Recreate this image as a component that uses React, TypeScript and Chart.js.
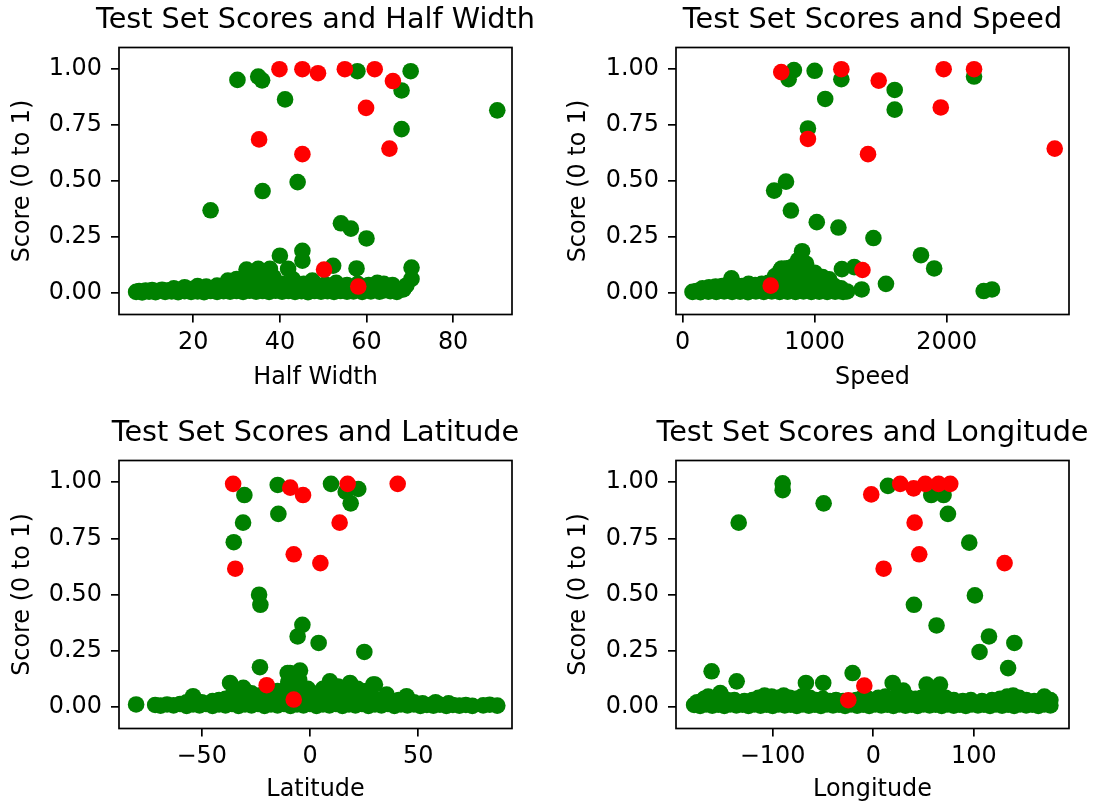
import React, { useEffect, useRef } from 'react';
import { Chart, registerables } from 'chart.js';

Chart.register(...registerables);

type Pt = [number, number];

// ---------- tick values / labels ----------
const yTickValues = [0, 0.25, 0.5, 0.75, 1.0];
const yTickLabels = ['0.00', '0.25', '0.50', '0.75', '1.00'];

const halfWidthTicks = [20, 40, 60, 80];
const halfWidthTickLabels = ['20', '40', '60', '80'];
const speedTicks = [0, 1000, 2000];
const speedTickLabels = ['0', '1000', '2000'];
const latitudeTicks = [-50, 0, 50];
const latitudeTickLabels = ['\u221250', '0', '50'];
const longitudeTicks = [-100, 0, 100];
const longitudeTickLabels = ['\u2212100', '0', '100'];

// ---------- Half Width ----------
const halfWidthRed: Pt[] = [
  [39.9, 1.0], [45.2, 1.0], [48.8, 0.982], [55.0, 1.0], [61.9, 1.0], [66.1, 0.947],
  [59.9, 0.827], [35.2, 0.686], [45.2, 0.62], [65.3, 0.645], [50.2, 0.104], [58.1, 0.028],
];
const halfWidthGreen: Pt[] = [
  [30.2, 0.952], [35.0, 0.967], [35.9, 0.95], [57.9, 0.991], [70.2, 0.991], [68.1, 0.905],
  [41.2, 0.865], [90.2, 0.816], [68.1, 0.732], [36.0, 0.455], [44.1, 0.495], [24.0, 0.369],
  [54.1, 0.311], [56.4, 0.287], [60.0, 0.243], [40.0, 0.166], [45.2, 0.188], [45.2, 0.144],
  [32.3, 0.104], [35.0, 0.107], [37.7, 0.107], [41.9, 0.107], [52.3, 0.121], [57.7, 0.109],
  [70.4, 0.113], [70.4, 0.062], [69.2, 0.033], [34.0, 0.075], [38.5, 0.07], [36.2, 0.058],
  [30.0, 0.062], [28.0, 0.055], [43.0, 0.06], [47.5, 0.055],
  [6.8, 0.004], [7.5, 0.008], [8.2, 0.002], [9.0, 0.01], [9.8, 0.005], [10.5, 0.012],
  [11.3, 0.003], [12.0, 0.009], [12.8, 0.014], [13.5, 0.004], [14.3, 0.011], [15.0, 0.006],
  [15.8, 0.016], [16.5, 0.003], [17.3, 0.012], [18.0, 0.007], [18.8, 0.018], [19.5, 0.004],
  [20.3, 0.013], [21.0, 0.006], [21.8, 0.02], [22.5, 0.003], [23.3, 0.015], [24.0, 0.008],
  [24.8, 0.022], [25.5, 0.004], [26.3, 0.016], [27.0, 0.007], [27.8, 0.024], [28.5, 0.005],
  [29.3, 0.018], [30.0, 0.008], [30.8, 0.026], [31.5, 0.004], [32.3, 0.019], [33.0, 0.009],
  [33.8, 0.028], [34.5, 0.005], [35.3, 0.02], [36.0, 0.008], [36.8, 0.027], [37.5, 0.004],
  [38.3, 0.018], [39.0, 0.009], [39.8, 0.025], [40.5, 0.005], [41.3, 0.017], [42.0, 0.008],
  [42.8, 0.026], [43.5, 0.004], [44.3, 0.019], [45.0, 0.007], [45.8, 0.024], [46.5, 0.003],
  [47.3, 0.016], [48.0, 0.008], [48.8, 0.023], [49.5, 0.005], [50.3, 0.015], [51.0, 0.007],
  [51.8, 0.022], [52.5, 0.004], [53.3, 0.017], [54.0, 0.008], [54.8, 0.021], [55.5, 0.005],
  [56.3, 0.014], [57.0, 0.006], [58.0, 0.018], [59.0, 0.004], [60.0, 0.012], [61.0, 0.006],
  [62.0, 0.016], [63.0, 0.005], [64.0, 0.011], [65.5, 0.007], [67.0, 0.004], [68.5, 0.015],
  [15.5, 0.02], [18.0, 0.025], [21.0, 0.03], [23.0, 0.028], [25.5, 0.032], [28.0, 0.035],
  [30.5, 0.04], [33.0, 0.045], [35.5, 0.042], [38.0, 0.048], [40.5, 0.04], [43.0, 0.045],
  [45.5, 0.04], [48.0, 0.042], [50.5, 0.038], [53.0, 0.045], [55.5, 0.035], [58.0, 0.04],
  [60.5, 0.035], [62.5, 0.045], [64.0, 0.04], [66.0, 0.035],
];

// ---------- Speed ----------
const speedRed: Pt[] = [
  [747, 0.987], [1202, 1.0], [1485, 0.949], [1977, 1.0], [2207, 1.0], [1955, 0.829],
  [949, 0.688], [1404, 0.62], [2818, 0.645], [1362, 0.102], [667, 0.032],
];
const speedGreen: Pt[] = [
  [843, 0.996], [803, 0.955], [1000, 0.993], [1202, 0.955], [1606, 0.907], [1606, 0.819],
  [1080, 0.867], [2207, 0.967], [949, 0.735], [693, 0.457], [783, 0.497], [820, 0.368],
  [1016, 0.316], [1180, 0.292], [1445, 0.245], [1805, 0.168], [1905, 0.109], [1540, 0.04],
  [1356, 0.015], [2280, 0.008], [2343, 0.015], [1206, 0.106], [1300, 0.115],
  [700, 0.075], [740, 0.1], [750, 0.109], [790, 0.11], [800, 0.085], [840, 0.12], [860, 0.08],
  [875, 0.146], [880, 0.125], [900, 0.1], [905, 0.186], [935, 0.13], [920, 0.09], [960, 0.08],
  [1000, 0.09], [1020, 0.075], [1060, 0.07], [1110, 0.06],
  [75, 0.004], [105, 0.008], [135, 0.003], [165, 0.01], [195, 0.005], [225, 0.012],
  [255, 0.004], [285, 0.009], [315, 0.006], [345, 0.011], [375, 0.004], [405, 0.01],
  [435, 0.005], [465, 0.012], [495, 0.003], [525, 0.01], [555, 0.006], [585, 0.012],
  [615, 0.004], [645, 0.01], [675, 0.006], [705, 0.012], [735, 0.004], [765, 0.01],
  [795, 0.005], [825, 0.012], [855, 0.004], [885, 0.01], [915, 0.006], [945, 0.012],
  [975, 0.004], [1005, 0.01], [1035, 0.005], [1065, 0.011], [1095, 0.004], [1125, 0.009],
  [1155, 0.005], [1185, 0.008], [1215, 0.004], [1245, 0.006],
  [150, 0.02], [200, 0.025], [250, 0.028], [300, 0.03], [350, 0.04], [370, 0.065],
  [400, 0.035], [450, 0.03], [500, 0.04], [550, 0.035], [600, 0.04], [650, 0.045],
  [700, 0.05], [750, 0.06], [800, 0.05], [850, 0.06], [900, 0.05], [950, 0.06],
  [1000, 0.05], [1050, 0.055], [1100, 0.04], [1150, 0.03], [1200, 0.02],
];

// ---------- Latitude ----------
const latitudeRed: Pt[] = [
  [-35.5, 0.993], [-9.1, 0.976], [-3.2, 0.943], [17.4, 0.993], [40.5, 0.993], [13.7, 0.82],
  [-7.5, 0.679], [4.8, 0.64], [-34.5, 0.615], [-20.0, 0.096], [-7.5, 0.032],
];
const latitudeGreen: Pt[] = [
  [-30.3, 0.943], [-14.9, 0.988], [9.7, 0.993], [22.3, 0.97], [16.5, 0.958], [18.8, 0.906],
  [-30.9, 0.82], [-14.6, 0.859], [-35.2, 0.733], [-23.5, 0.499], [-22.9, 0.454], [-3.5, 0.365],
  [-5.7, 0.313], [4.0, 0.284], [25.1, 0.244], [-23.1, 0.176], [-10.3, 0.15], [-4.6, 0.161],
  [30.0, 0.099],
  [-80.3, 0.01], [-71.5, 0.008], [-69, 0.005], [-66, 0.01], [-63, 0.006], [-60, 0.012],
  [-57, 0.004], [-54, 0.01], [-51, 0.006], [-48, 0.012], [-45, 0.004], [-42, 0.01],
  [-39, 0.006], [-36, 0.012], [-33, 0.004], [-30, 0.01], [-27, 0.006], [-24, 0.012],
  [-21, 0.004], [-18, 0.01], [-15, 0.006], [-12, 0.012], [-9, 0.004], [-6, 0.01],
  [-3, 0.006], [0, 0.012], [3, 0.004], [6, 0.01], [9, 0.006], [12, 0.012], [15, 0.004],
  [18, 0.01], [21, 0.006], [24, 0.012], [27, 0.004], [30, 0.01], [33, 0.006], [36, 0.012],
  [39, 0.004], [42, 0.01], [45, 0.006], [48, 0.01], [51, 0.004], [54, 0.008], [57, 0.005],
  [60, 0.009], [63, 0.004], [66, 0.008], [69, 0.005], [72, 0.008], [75, 0.004], [80, 0.006],
  [83, 0.009], [86.5, 0.005],
  [-57, 0.02], [-54, 0.047], [-50, 0.02], [-45, 0.025], [-42, 0.03], [-39, 0.035],
  [-36.9, 0.106], [-36, 0.05], [-33, 0.04], [-30.8, 0.084], [-30, 0.05], [-27, 0.06],
  [-25, 0.03], [-23, 0.05], [-21, 0.06], [-19, 0.035], [-17, 0.055], [-15, 0.07], [-13, 0.04],
  [-11, 0.08], [-9.2, 0.15], [-10, 0.11], [-8, 0.06], [-6, 0.095], [-5, 0.12], [-3, 0.05],
  [-1, 0.08], [1, 0.04], [3.8, 0.055], [6, 0.08], [8, 0.04], [9.2, 0.113], [11, 0.07],
  [13, 0.09], [15, 0.05], [17, 0.085], [18.5, 0.106], [20, 0.06], [22, 0.08], [24, 0.04],
  [26, 0.07], [29.2, 0.099], [28, 0.04], [31, 0.03], [35.4, 0.054], [38, 0.025], [41, 0.03],
  [44.6, 0.047], [48, 0.02], [52, 0.015], [58, 0.02], [64, 0.015],
];

// ---------- Longitude ----------
const longitudeRed: Pt[] = [
  [-2.0, 0.946], [26.8, 0.993], [40.1, 0.973], [51.7, 0.993], [64.9, 0.993], [76.5, 0.993],
  [41.1, 0.82], [45.7, 0.679], [10.3, 0.615], [130.5, 0.64], [-8.9, 0.094], [-24.8, 0.029],
];
const longitudeGreen: Pt[] = [
  [-90, 0.995], [-90, 0.965], [-49.3, 0.906], [-133.7, 0.82], [14.6, 0.984], [57.6, 0.943],
  [69.9, 0.943], [74.2, 0.859], [95.4, 0.731], [40.4, 0.454], [101, 0.496], [62.9, 0.362],
  [115, 0.313], [105.6, 0.244], [140.2, 0.284], [134, 0.172], [-160.6, 0.158], [-135.7, 0.113],
  [-66.9, 0.106], [-49.7, 0.106], [-20.5, 0.15], [19.3, 0.106], [29.8, 0.072], [53, 0.099],
  [66.3, 0.099], [-152, 0.061],
  [-178, 0.008], [-172, 0.004], [-166, 0.01], [-160, 0.005], [-154, 0.009], [-148, 0.004],
  [-142, 0.01], [-136, 0.006], [-130, 0.009], [-124, 0.004], [-118, 0.01], [-112, 0.005],
  [-106, 0.009], [-100, 0.004], [-94, 0.01], [-88, 0.006], [-82, 0.009], [-76, 0.004],
  [-70, 0.01], [-64, 0.005], [-58, 0.009], [-52, 0.004], [-46, 0.01], [-40, 0.006],
  [-34, 0.009], [-28, 0.004], [-22, 0.01], [-16, 0.005], [-10, 0.009], [-4, 0.004],
  [2, 0.01], [8, 0.006], [14, 0.009], [20, 0.004], [26, 0.01], [32, 0.005], [38, 0.009],
  [44, 0.004], [50, 0.01], [56, 0.006], [62, 0.009], [68, 0.004], [74, 0.01], [80, 0.005],
  [86, 0.009], [92, 0.004], [98, 0.01], [104, 0.006], [110, 0.009], [116, 0.004], [122, 0.01],
  [128, 0.005], [134, 0.009], [140, 0.004], [146, 0.01], [152, 0.006], [158, 0.009],
  [164, 0.004], [170, 0.01], [176, 0.006],
  [-175, 0.02], [-168, 0.035], [-164, 0.045], [-157, 0.04], [-151, 0.05], [-145, 0.03],
  [-138, 0.03], [-128, 0.025], [-120, 0.03], [-114, 0.04], [-108, 0.05], [-101, 0.045],
  [-95, 0.04], [-89, 0.05], [-83, 0.04], [-77, 0.035], [-71, 0.045], [-63, 0.04], [-57, 0.03],
  [-50, 0.035], [-43, 0.025], [-37, 0.03], [-30, 0.025], [-17, 0.03], [-11, 0.04], [-5, 0.035],
  [5, 0.04], [12, 0.045], [24, 0.05], [35, 0.04], [42, 0.035], [48, 0.04], [58, 0.05],
  [65, 0.045], [72, 0.04], [80, 0.03], [89, 0.025], [97, 0.03], [108, 0.025], [118, 0.03],
  [126, 0.035], [133, 0.045], [139, 0.05], [145, 0.04], [152, 0.03], [160, 0.025],
  [170, 0.045], [176, 0.03],
];

// ---------- layout of the four panels ----------
const FONT = 'DejaVu Sans';
const TICK_SIZE = 23.9;
const TITLE_SIZE = 28.7;

interface Panel {
  title: string;
  xLabel: string;
  xMin: number;
  xMax: number;
  xTicks: number[];
  xTickLabels: string[];
  green: Pt[];
  red: Pt[];
  left: number;
  top: number;
  width: number;
  height: number;
  yAxisW: number;
  rightPad: number;
  xAxisH: number;
  titlePadTop: number;
  titlePadBottom: number;
  yTitlePad: number;
  xTitlePad: number;
}

const panels: Panel[] = [
  {
    title: 'Test Set Scores and Half Width', xLabel: 'Half Width',
    xMin: 2.85, xMax: 93.6, xTicks: halfWidthTicks, xTickLabels: halfWidthTickLabels,
    green: halfWidthGreen, red: halfWidthRed,
    left: 0, top: 0, width: 550, height: 400, yAxisW: 119, rightPad: 38, xAxisH: 85.5,
    titlePadTop: 3.6, titlePadBottom: 9.46, yTitlePad: 8.4, xTitlePad: 8.1,
  },
  {
    title: 'Test Set Scores and Speed', xLabel: 'Speed',
    xMin: -50, xMax: 2926, xTicks: speedTicks, xTickLabels: speedTickLabels,
    green: speedGreen, red: speedRed,
    left: 550, top: 0, width: 550, height: 400, yAxisW: 126, rightPad: 31, xAxisH: 85.5,
    titlePadTop: 3.6, titlePadBottom: 9.46, yTitlePad: 14.1, xTitlePad: 8.1,
  },
  {
    title: 'Test Set Scores and Latitude', xLabel: 'Latitude',
    xMin: -88.2, xMax: 93.3, xTicks: latitudeTicks, xTickLabels: latitudeTickLabels,
    green: latitudeGreen, red: latitudeRed,
    left: 0, top: 400, width: 550, height: 405, yAxisW: 119, rightPad: 38, xAxisH: 76.5,
    titlePadTop: 16.8, titlePadBottom: 9.26, yTitlePad: 8.4, xTitlePad: 0.8,
  },
  {
    title: 'Test Set Scores and Longitude', xLabel: 'Longitude',
    xMin: -196, xMax: 194.5, xTicks: longitudeTicks, xTickLabels: longitudeTickLabels,
    green: longitudeGreen, red: longitudeRed,
    left: 550, top: 400, width: 550, height: 405, yAxisW: 126, rightPad: 31, xAxisH: 76.5,
    titlePadTop: 16.8, titlePadBottom: 9.26, yTitlePad: 14.1, xTitlePad: 0.8,
  },
];

// Draws the full box around the plot area, like matplotlib's four spines.
const framePlugin = {
  id: 'frame',
  afterDatasetsDraw(chart: any) {
    const { ctx, chartArea: a } = chart;
    ctx.save();
    ctx.strokeStyle = '#000';
    ctx.lineWidth = 1.7;
    ctx.strokeRect(a.left, a.top, a.right - a.left, a.bottom - a.top);
    ctx.restore();
  },
};

// Centres the title block on the plot area (matplotlib centres titles on the axes box).
const titleCenterPlugin = {
  id: 'titleCenter',
  afterLayout(chart: any) {
    const tb = chart.titleBlock;
    const a = chart.chartArea;
    if (!tb || !a) return;
    const c = (a.left + a.right) / 2;
    const half = 300;
    tb.left = c - half;
    tb.right = c + half;
    tb.width = half * 2;
  },
};

function makeChart(canvas: HTMLCanvasElement, p: Panel) {
  const toXY = (pts: Pt[]) => pts.map(([x, y]) => ({ x, y }));
  return new Chart(canvas, {
    type: 'scatter',
    data: {
      datasets: [
        {
          data: toXY(p.red),
          backgroundColor: '#ff0000',
          borderWidth: 0,
          pointRadius: 8.3,
          pointHoverRadius: 8.3,
        },
        {
          data: toXY(p.green),
          backgroundColor: '#008000',
          borderWidth: 0,
          pointRadius: 8.3,
          pointHoverRadius: 8.3,
        },
      ],
    },
    options: {
      responsive: false,
      animation: false,
      events: [],
      layout: { padding: { left: 0, top: 0, right: p.rightPad, bottom: 0 } },
      plugins: {
        legend: { display: false },
        tooltip: { enabled: false },
        title: {
          display: true,
          text: p.title,
          color: '#000',
          fullSize: true,
          font: { family: FONT, size: TITLE_SIZE, weight: 'normal', lineHeight: 1.2 },
          padding: { top: p.titlePadTop, bottom: p.titlePadBottom },
        },
      },
      scales: {
        x: {
          type: 'linear',
          position: 'bottom',
          min: p.xMin,
          max: p.xMax,
          afterBuildTicks: (scale: any) => {
            scale.ticks = p.xTicks.map((v) => ({ value: v }));
          },
          afterFit: (scale: any) => {
            scale.height = p.xAxisH;
          },
          ticks: {
            autoSkip: false,
            maxRotation: 0,
            minRotation: 0,
            padding: 6,
            color: '#000',
            font: { family: FONT, size: TICK_SIZE, lineHeight: 1.2 },
            callback: (_v: any, i: number) => p.xTickLabels[i],
          },
          grid: {
            display: true,
            drawOnChartArea: false,
            drawTicks: true,
            tickLength: 8,
            color: '#000',
            lineWidth: 1.7,
          },
          border: { display: false },
          title: {
            display: true,
            text: p.xLabel,
            color: '#000',
            font: { family: FONT, size: TICK_SIZE, lineHeight: 1.2 },
            padding: { top: 0, bottom: p.xTitlePad },
          },
        },
        y: {
          type: 'linear',
          position: 'left',
          min: -0.097,
          max: 1.097,
          afterBuildTicks: (scale: any) => {
            scale.ticks = yTickValues.map((v) => ({ value: v }));
          },
          afterFit: (scale: any) => {
            scale.width = p.yAxisW;
          },
          ticks: {
            autoSkip: false,
            padding: 9,
            color: '#000',
            font: { family: FONT, size: TICK_SIZE, lineHeight: 1.2 },
            callback: (_v: any, i: number) => yTickLabels[i],
          },
          grid: {
            display: true,
            drawOnChartArea: false,
            drawTicks: true,
            tickLength: 8,
            color: '#000',
            lineWidth: 1.7,
          },
          border: { display: false },
          title: {
            display: true,
            text: 'Score (0 to 1)',
            color: '#000',
            font: { family: FONT, size: TICK_SIZE, lineHeight: 1.2 },
            padding: { top: p.yTitlePad, bottom: 0 },
          },
        },
      },
    } as any,
    plugins: [framePlugin, titleCenterPlugin],
  });
}

export default function App() {
  const refs = useRef<(HTMLCanvasElement | null)[]>([]);

  useEffect(() => {
    const charts = panels.map((p, i) => makeChart(refs.current[i] as HTMLCanvasElement, p));
    return () => {
      charts.forEach((c) => c.destroy());
    };
  }, []);

  return (
    <div
      style={{
        position: 'absolute',
        left: 0,
        top: 0,
        width: 1100,
        height: 805,
        background: '#ffffff',
        overflow: 'hidden',
      }}
    >
      {panels.map((p, i) => (
        <canvas
          key={i}
          ref={(el) => {
            refs.current[i] = el;
          }}
          width={p.width}
          height={p.height}
          style={{
            position: 'absolute',
            left: p.left,
            top: p.top,
            width: p.width,
            height: p.height,
          }}
        />
      ))}
    </div>
  );
}
